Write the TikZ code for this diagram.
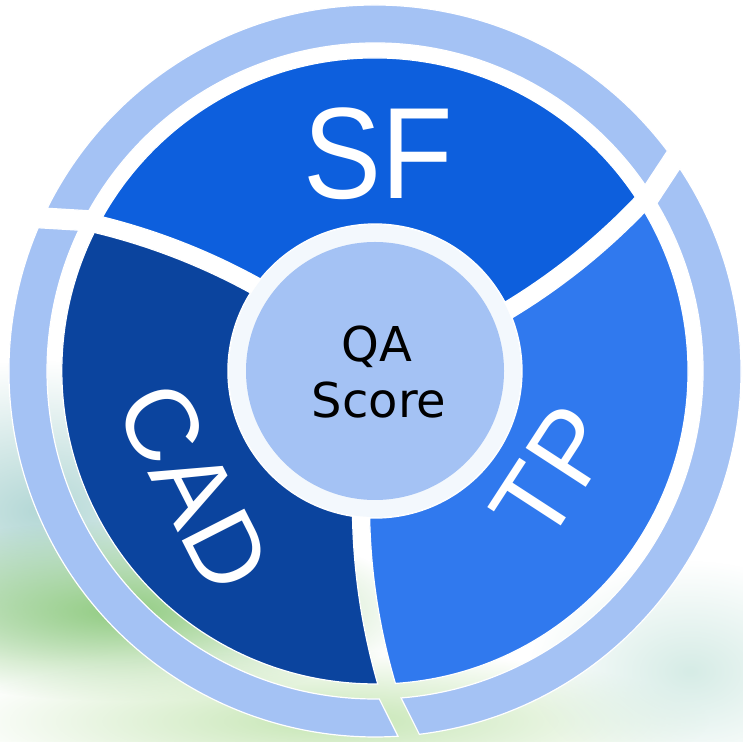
\documentclass[tikz,border=0pt]{standalone}
\usepackage{fontspec}
\usepackage{graphicx}
\setmainfont{Liberation Sans}
\newfontfamily\qafont{DejaVu Sans}
\usetikzlibrary{fadings}
\definecolor{ringblue}{HTML}{A4C2F4}
\definecolor{sfblue}{HTML}{0D5FDD}
\definecolor{tpblue}{HTML}{3079EE}
\definecolor{cadblue}{HTML}{0B449E}
\definecolor{bgteal}{HTML}{B4D8D6}
\definecolor{bggreen}{HTML}{92CC82}
\definecolor{bgpale}{HTML}{C6E6B4}
\definecolor{bglight}{HTML}{D6ECE6}
\definecolor{hubwhite}{HTML}{F3F8FD}
\tikzfading[name=softblob, inner color=transparent!0, outer color=transparent!100]
% segment between separator at angle #1 and the next one (+120)
\newcommand\segP[1]{({#1-80.09}:147)
  arc[start angle={#1+193.23}, end angle={#1+208.45}, radius=632.5]
  arc[start angle={#1-74.27}, end angle={#1+42.52}, radius=313]
  arc[start angle={#1+328.06}, end angle={#1+313.06}, radius=649.5]
  arc[start angle={#1+33.24}, end angle={#1-80.09}, radius=147] -- cycle}
% outer ring piece
\newcommand\ringP[1]{({#1-73.43}:328) -- ({#1-71.04}:366)
  arc[start angle={#1-71.04}, end angle={#1+45.6}, radius=366]
  -- ({#1+42.75}:328)
  arc[start angle={#1+42.75}, end angle={#1-73.43}, radius=328] -- cycle}
\begin{document}
\begin{tikzpicture}[x=1pt,y=1pt,
  piece/.style={draw=white, line width=1.2pt},
  lbl/.style={text=white, inner sep=0pt}]
\useasboundingbox (0,0) rectangle (743,741);
\clip (0,0) rectangle (743,741);
\fill[white] (0,0) rectangle (743,741);
% blurred background
\fill[bgteal, path fading=softblob] (40,230) ellipse[x radius=230, y radius=150];
\fill[bggreen, path fading=softblob] (120,130) ellipse[x radius=300, y radius=90];
\fill[bgpale, path fading=softblob] (330,20) ellipse[x radius=380, y radius=70];
\fill[bglight, path fading=softblob] (690,70) ellipse[x radius=160, y radius=110];
\begin{scope}[shift={(375,370)}]
  \path[fill=ringblue, piece] \ringP{348};
  \path[fill=ringblue, piece] \ringP{108};
  \path[fill=ringblue, piece] \ringP{228};
  \path[fill=tpblue, piece] \segP{348};
  \path[fill=sfblue, piece] \segP{108};
  \path[fill=cadblue, piece] \segP{228};
  \fill[hubwhite] (0,0) circle[radius=146];
  \fill[ringblue] (0,0) circle[radius=129];
\end{scope}
\node[lbl, font=\fontsize{130}{130}\selectfont, anchor=base] (sf) at (378,542) {\scalebox{0.9}[1]{SF}};
\node[lbl, font=\fontsize{102}{102}\selectfont, rotate=-63] (cad) at (194,254) {CAD};
\node[lbl, font=\fontsize{104}{104}\selectfont, rotate=57] (tp) at (553,268) {TP};
\node[font=\qafont\fontsize{48}{48}\selectfont, anchor=base, inner sep=0pt] (qa) at (377,379) {QA};
\node[font=\qafont\fontsize{48}{48}\selectfont, anchor=base, inner sep=0pt] (score) at (379,323) {Score};
\end{tikzpicture}
\end{document}
